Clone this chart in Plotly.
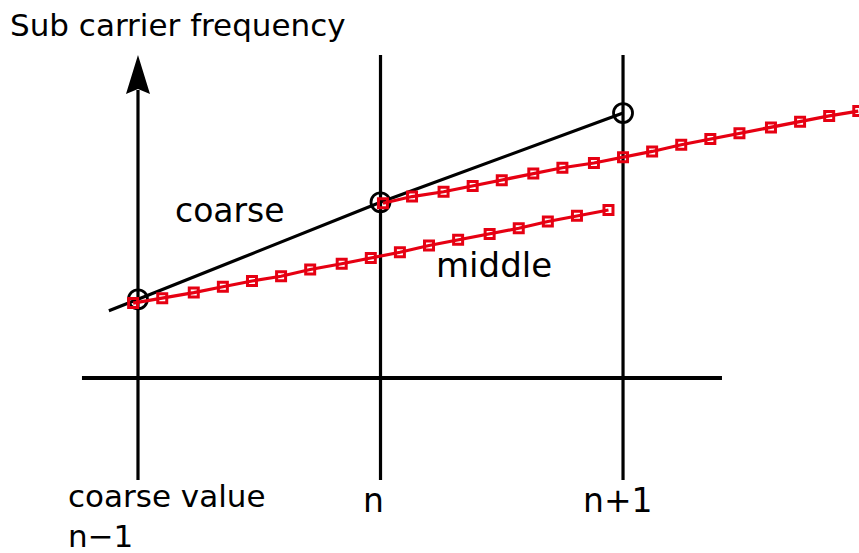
import plotly.graph_objects as go

# slot positions on the time axis: n-1, n, n+1
slot_x = [0, 1, 2]
slot_labels = ["coarse value<br>n\u22121", "n", "n+1"]

# coarse estimate (black line, circles on the slots)
coarse_x = [-0.12, 0, 1, 2]
coarse_y = [0.70, 0.82, 1.83, 2.76]

# middle estimate, first interval (n-1 -> n+1)
mid1_x = [-0.02, 0.10, 0.23, 0.35, 0.47, 0.59, 0.71, 0.84, 0.96,
          1.08, 1.20, 1.32, 1.45, 1.57, 1.69, 1.81, 1.94]
mid1_y = [0.78, 0.83, 0.89, 0.95, 1.01, 1.06, 1.13, 1.19, 1.25,
          1.31, 1.38, 1.44, 1.50, 1.56, 1.63, 1.69, 1.75]

# middle estimate, second interval (n -> n+2)
mid2_x = [1.01, 1.13, 1.26, 1.38, 1.50, 1.63, 1.75, 1.88, 2.00,
          2.12, 2.24, 2.36, 2.48, 2.61, 2.73, 2.85, 2.97]
mid2_y = [1.82, 1.89, 1.94, 2.00, 2.06, 2.13, 2.19, 2.24, 2.30,
          2.36, 2.43, 2.49, 2.55, 2.61, 2.67, 2.73, 2.78]

RED = "#e60012"
FONT = "DejaVu Sans"

fig = go.Figure()

# coarse line + circles
fig.add_trace(go.Scatter(x=coarse_x, y=coarse_y, mode="lines",
                         line=dict(color="black", width=3.2), hoverinfo="skip"))
fig.add_trace(go.Scatter(x=slot_x, y=coarse_y[1:], mode="markers",
                         marker=dict(symbol="circle-open", size=19, color="black",
                                     line=dict(width=2.8, color="black"))))

# middle lines
for xs, ys in [(mid1_x, mid1_y), (mid2_x, mid2_y)]:
    fig.add_trace(go.Scatter(x=xs, y=ys, mode="lines+markers",
                             line=dict(color=RED, width=3.2),
                             marker=dict(symbol="square-open", size=9, color=RED,
                                         line=dict(width=3, color=RED))))

# axes drawn by hand
fig.add_shape(type="line", x0=-0.231, x1=2.408, y0=0, y1=0,
              line=dict(color="black", width=4), layer="below")
fig.add_shape(type="line", x0=0, x1=0, y0=-1.0625, y1=3.0,
              line=dict(color="black", width=3.2), layer="below")
fig.add_shape(type="path", xref="x", yref="y", xsizemode="pixel", ysizemode="pixel",
              xanchor=0, yanchor=3.365, path="M0,0 L-12,-39 L0,-34 L12,-39 Z",
              fillcolor="black", line=dict(width=0))
for sx in slot_x[1:]:
    fig.add_shape(type="line", x0=sx, x1=sx, y0=-1.0625, y1=3.365,
                  line=dict(color="black", width=3.2), layer="below")

def label(text, x, y, xanchor="center", size=33):
    fig.add_annotation(text=text, x=x, y=y, xref="paper", yref="paper",
                       xanchor=xanchor, yanchor="middle", align=xanchor,
                       showarrow=False,
                       font=dict(family=FONT, size=size, color="black"))

W, H = 859, 553
label("Sub carrier frequency", 8 / W, 1 - 25 / H, "left", 31)
label("coarse", 230 / W, 1 - 210 / H)
label("middle", 494 / W, 1 - 265 / H, size=34)
label(slot_labels[0], 66 / W, 1 - 516 / H, "left", 31)
label(slot_labels[1], 373 / W, 1 - 500 / H)
label(slot_labels[2], 618 / W, 1 - 500 / H)

fig.update_layout(
    width=W, height=H,
    margin=dict(l=0, r=0, t=0, b=0),
    plot_bgcolor="white", paper_bgcolor="white",
    showlegend=False,
    xaxis=dict(range=[-0.569, 2.973], visible=False),
    yaxis=dict(range=[-1.823, 3.9375], visible=False),
)

fig.write_html("out.html", config={"displayModeBar": False},
               post_script="document.body.style.margin='0';")
